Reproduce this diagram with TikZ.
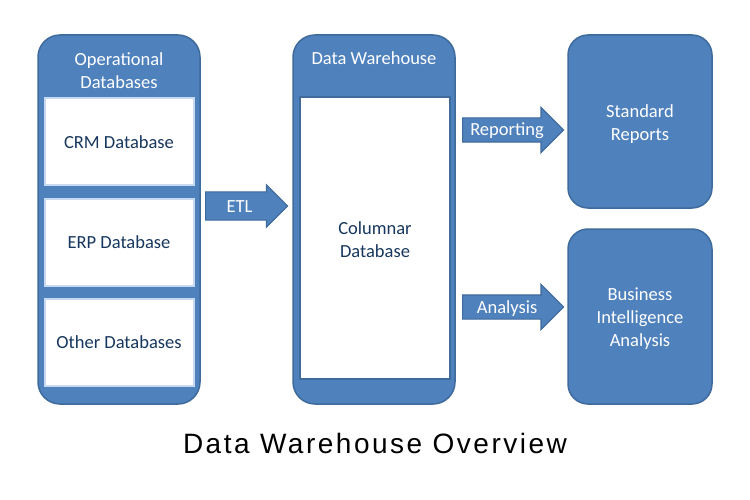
\documentclass[tikz,border=0pt]{standalone}
\usepackage{fontspec}
\setmainfont{Carlito}
\newfontfamily\captionfont[LetterSpace=9]{Liberation Sans}
\usetikzlibrary{shapes.arrows}

\definecolor{boxblue}{HTML}{4F81BD}
\definecolor{edgeblue}{HTML}{3F6A9C}
\definecolor{paleblue}{HTML}{C6D9F1}
\definecolor{navytext}{HTML}{17375E}

\tikzset{
    panel/.style={rectangle, rounded corners=22pt, fill=boxblue, draw=edgeblue,
        line width=1.5pt, inner sep=0pt},
    dbbox/.style={rectangle, fill=white, draw=paleblue, line width=2pt,
        minimum width=149pt, minimum height=87pt, text=navytext, align=center,
        font=\fontsize{18.5}{23}\selectfont},
    hdr/.style={text=white, align=center, font=\fontsize{18.5}{23}\selectfont},
    flow/.style={single arrow, fill=boxblue, draw=edgeblue, line width=1.2pt,
        text=white, font=\fontsize{18.5}{23}\selectfont, anchor=tail,
        text height=13pt, text depth=1pt, inner xsep=4pt}
}

\begin{document}
\begin{tikzpicture}[x=1pt, y=-1pt]

\useasboundingbox (0,0) rectangle (750,500);

% operational side
\node [panel, minimum width=162pt, minimum height=369pt] (opdb) at (119,219.5) {};
\node [hdr] (opdbhdr) at (119,70.5) {Operational\\Databases};

\node [dbbox] (crm) at (119,142) {CRM Database};
\node [dbbox] (erp) at (119,242) {ERP Database};
\node [dbbox] (otherdb) at (119,342) {Other Databases};

% warehouse
\node [panel, minimum width=162pt, minimum height=369pt] (dw) at (374,219.5) {};
\node [hdr] (dwhdr) at (374,58.5) {Data Warehouse};
\node [dbbox, draw=edgeblue, line width=1.5pt, minimum width=150pt,
    minimum height=282pt] (coldb) at (375,238) {};
\node [text=navytext, align=center, font=\fontsize{18.5}{23}\selectfont]
    (coldbtxt) at (375,239.5) {Columnar\\Database};

% outputs
\node [panel, rounded corners=20pt, minimum width=144pt, minimum height=173pt]
    (stdrep) at (640,121.5) {};
\node [hdr] (stdreptxt) at (640,124) {Standard\\Reports};
\node [panel, rounded corners=20pt, minimum width=144pt, minimum height=175pt]
    (bi) at (640,316.5) {};
\node [hdr] (bitxt) at (640,318.5) {Business\\Intelligence\\Analysis};

% block arrows
\node [flow, inner ysep=6.5pt, single arrow head extend=7pt, minimum height=82pt]
    (etl) at (205,206) {ETL};
\node [flow, inner ysep=4.5pt, single arrow head extend=10.5pt, minimum height=101pt]
    (reporting) at (462,130) {Reporting};
\node [flow, inner ysep=4.5pt, single arrow head extend=10.5pt, minimum height=101pt]
    (analysis) at (462,307) {Analysis};

\node [font=\captionfont\fontsize{28}{32}\selectfont] (caption) at (375,443)
    {Data Warehouse Overview};

\end{tikzpicture}
\end{document}
